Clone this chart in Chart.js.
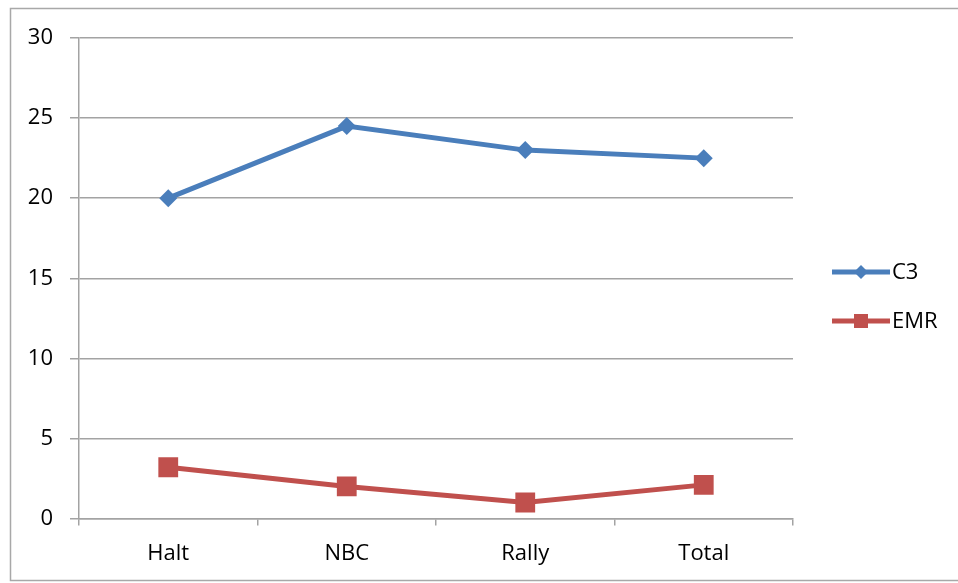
<!DOCTYPE html>
<html>
<head>
<meta charset="utf-8">
<script src="https://cdn.jsdelivr.net/npm/chart.js@4/dist/chart.umd.min.js"></script>
<style>
  html, body { margin: 0; padding: 0; background: #fff; }
  #wrap { width: 958px; height: 583px; }
</style>
</head>
<body>
<div id="wrap"><canvas id="chart"></canvas></div>
<script>
// 数据
const categories = ['Halt', 'NBC', 'Rally', 'Total'];
const c3Values = [20, 24.5, 23, 22.5];
const emrValues = [3.2, 2.0, 1.0, 2.1];
const yTicks = [0, 5, 10, 15, 20, 25, 30];

const FONT = '"Open Sans", Lato, sans-serif';
const TEXT = '#000';
const GRID = '#a3a3a3';

// 外框
const framePlugin = {
    id: 'frame',
    beforeDraw: (chart) => {
        const ctx = chart.ctx;
        ctx.save();
        ctx.fillStyle = '#fff';
        ctx.fillRect(0, 0, chart.width, chart.height);
        ctx.strokeStyle = '#a8a8a8';
        ctx.lineWidth = 1.5;
        ctx.strokeRect(10.5, 8.5, chart.width + 10, 572);
        ctx.restore();
    }
};

// 图例（线段 + 标记）
const legendPlugin = {
    id: 'lineLegend',
    afterDraw: (chart) => {
        const ctx = chart.ctx;
        const x0 = 832, x1 = 890;
        const rows = [272, 321];
        ctx.save();
        chart.data.datasets.forEach((ds, i) => {
            const y = rows[i];
            ctx.strokeStyle = ds.borderColor;
            ctx.lineWidth = 5;
            ctx.beginPath();
            ctx.moveTo(x0, y);
            ctx.lineTo(x1, y);
            ctx.stroke();
            const cx = (x0 + x1) / 2;
            ctx.fillStyle = ds.pointBackgroundColor;
            ctx.beginPath();
            if (ds.pointStyle === 'rectRot') {
                ctx.moveTo(cx - 7, y);
                ctx.lineTo(cx, y - 7);
                ctx.lineTo(cx + 7, y);
                ctx.lineTo(cx, y + 7);
                ctx.closePath();
            } else {
                ctx.rect(cx - 7, y - 7, 14, 14);
            }
            ctx.fill();
            ctx.fillStyle = TEXT;
            ctx.font = '22px ' + FONT;
            ctx.textBaseline = 'middle';
            ctx.textAlign = 'left';
            ctx.fillText(ds.label, x1 + 2, y + 1);
        });
        ctx.restore();
    }
};

const ctx = document.getElementById('chart').getContext('2d');
new Chart(ctx, {
    type: 'line',
    data: {
        labels: categories,
        datasets: [{
            label: 'C3',
            data: c3Values,
            borderColor: '#4a7ebb',
            backgroundColor: '#4a7ebb',
            pointBackgroundColor: '#4a7ebb',
            pointBorderColor: '#4a7ebb',
            borderWidth: 5,
            pointStyle: 'rectRot',
            pointRadius: 9,
            pointBorderWidth: 0,
            tension: 0
        }, {
            label: 'EMR',
            data: emrValues,
            borderColor: '#c0504d',
            backgroundColor: '#c0504d',
            pointBackgroundColor: '#c0504d',
            pointBorderColor: '#c0504d',
            borderWidth: 5,
            pointStyle: 'rect',
            pointRadius: 14,
            pointBorderWidth: 0,
            tension: 0
        }]
    },
    options: {
        responsive: true,
        maintainAspectRatio: false,
        animation: false,
        layout: {
            padding: { top: 38, right: 165, bottom: 0, left: 0 }
        },
        plugins: {
            legend: { display: false },
            tooltip: { enabled: false }
        },
        scales: {
            x: {
                offset: true,
                grid: {
                    offset: true,
                    drawOnChartArea: false,
                    drawTicks: true,
                    tickLength: 7,
                    color: GRID,
                    lineWidth: 1.5
                },
                border: { color: GRID, width: 1.5 },
                ticks: {
                    color: TEXT,
                    font: { family: FONT, size: 22 },
                    padding: 15
                },
                afterFit: (s) => { s.height = 64.5; }
            },
            y: {
                min: 0,
                max: 30,
                afterBuildTicks: (s) => { s.ticks = yTicks.map(v => ({ value: v })); },
                grid: {
                    color: GRID,
                    lineWidth: 1.5,
                    drawTicks: true,
                    tickLength: 9
                },
                border: { color: GRID, width: 1.5 },
                ticks: {
                    color: TEXT,
                    font: { family: FONT, size: 22 },
                    padding: 17
                },
                afterFit: (s) => { s.width = 79; }
            }
        }
    },
    plugins: [framePlugin, legendPlugin]
});
</script>
</body>
</html>
